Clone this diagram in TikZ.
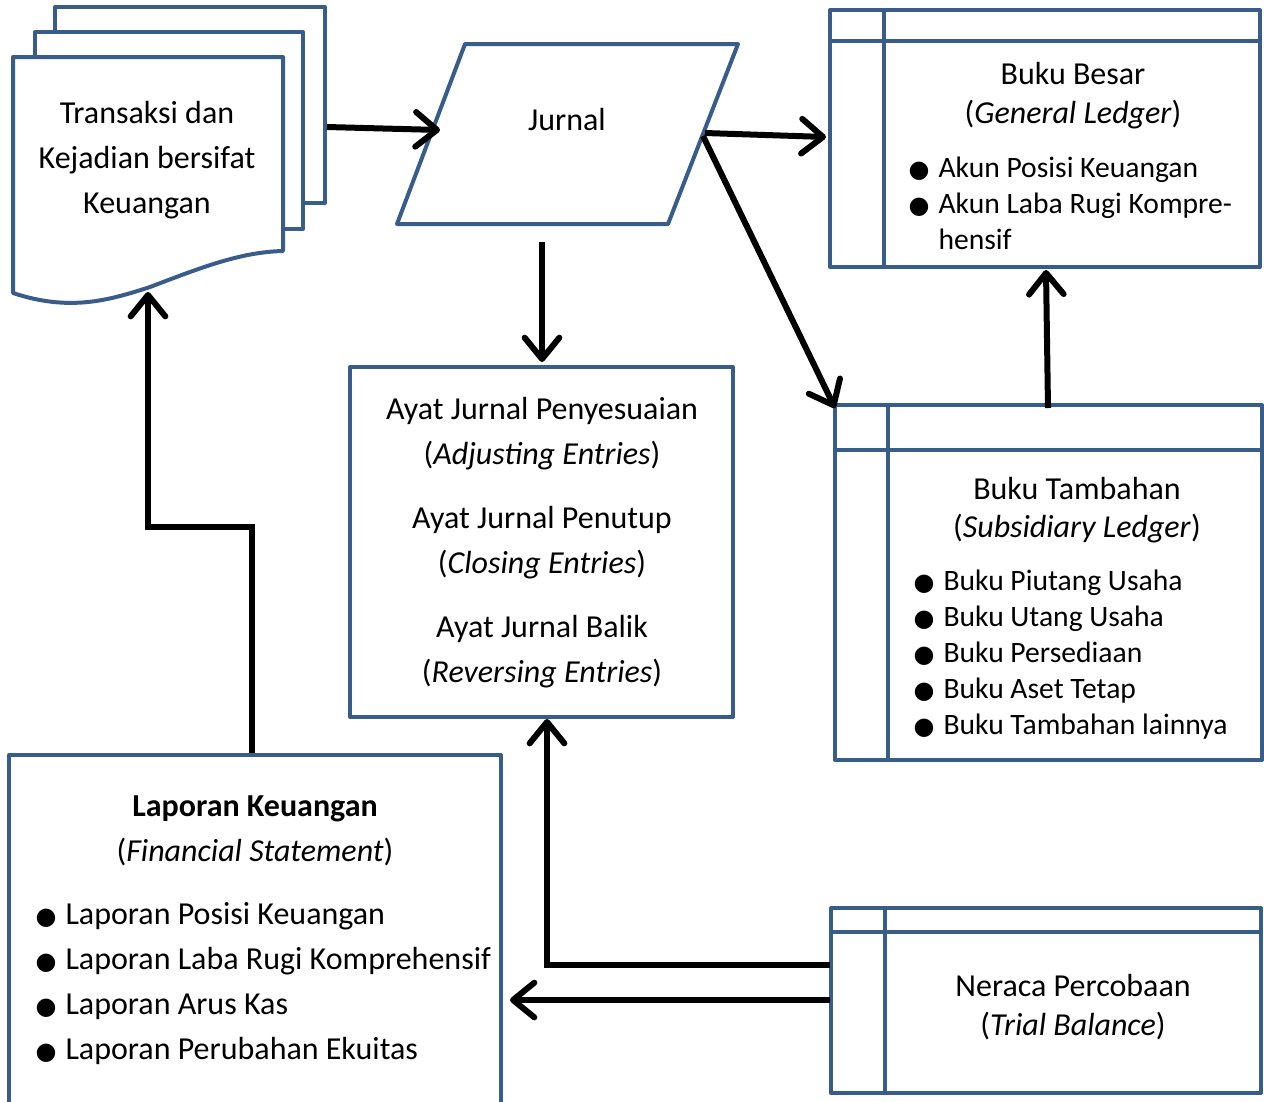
\documentclass[tikz,border=0pt]{standalone}
\usepackage{fontspec}
\setmainfont{Carlito}
\newfontfamily\symfont{DejaVu Sans}
\usetikzlibrary{arrows.meta}
\definecolor{outlineblue}{RGB}{56,93,138}
\newcommand{\bul}{\makebox[22.5pt][l]{\symfont\fontsize{18}{18}\selectfont ●}}
\newcommand{\bulskip}{\hspace*{22.5pt}}

\tikzset{every picture/.style={line width=0.75pt}}
\tikzset{
  shapeline/.style={draw=outlineblue,line width=3pt,line join=round,fill=white},
  rule/.style={draw=outlineblue,line width=3pt},
  flow/.style={line width=4.5pt,-{Straight Barb[length=16pt,width=26pt,round]}},
  txt/.style={inner sep=0.75pt,align=center,font=\fontsize{24}{33.75}\selectfont},
  listtxt/.style={inner sep=0.75pt,align=left,anchor=west,font=\fontsize{22.2}{27}\selectfont},
}

\begin{document}
\begin{tikzpicture}[x=0.75pt,y=0.75pt,yscale=-1,xscale=1]
\useasboundingbox (0,0) rectangle (1264,1101);

%Shape: Document stack
\draw[shapeline] (55,7) rectangle (325,203);
\draw[shapeline] (35,32) rectangle (303,229);
\draw[shapeline] (13,57) -- (283,57) -- (283,251) .. controls (240,252) and (200,268) .. (150,287) .. controls (110,300) and (70,312) .. (13,293) -- cycle;
%Shape: Parallelogram
\draw[shapeline] (465,44) -- (738,44) -- (668,224) -- (397,224) -- cycle;
%Shape: Ledger (general)
\draw[shapeline] (830,10) rectangle (1260,267);
\draw[rule] (830,41) -- (1260,41) (884,10) -- (884,267);
%Shape: Ledger (subsidiary)
\draw[shapeline] (835,405) rectangle (1262,760);
\draw[rule] (835,450) -- (1262,450) (888,405) -- (888,760);
%Shape: Ledger (trial balance)
\draw[shapeline] (831,908) rectangle (1261,1093);
\draw[rule] (831,932) -- (1261,932) (885,908) -- (885,1093);
%Shape: Rectangle
\draw[shapeline] (350,367) rectangle (733,717);
%Shape: Rectangle
\draw[shapeline] (9,755) rectangle (501,1112);

% Text Node
\node[txt] (docText) at (147,160) {Transaksi dan\\Kejadian bersifat\\Keuangan};
% Text Node
\node[txt] (jurnalText) at (567,120) {Jurnal};
% Text Node
\node[txt,font=\fontsize{24}{29.25}\selectfont] (besarTitle) at (1073,96) {Buku Besar\\(\textit{General Ledger})};
\node[listtxt] (besarList) at (907,203) {\bul Akun Posisi Keuangan\\\bul Akun Laba Rugi Kompre-\\\bulskip hensif};
% Text Node
\node[txt,font=\fontsize{24}{28.5}\selectfont] (tambahTitle) at (1077,510) {Buku Tambahan\\(\textit{Subsidiary Ledger})};
\node[listtxt] (tambahList) at (912,655) {\bul Buku Piutang Usaha\\\bul Buku Utang Usaha\\\bul Buku Persediaan\\\bul Buku Aset Tetap\\\bul Buku Tambahan lainnya};
% Text Node
\node[txt] (ayatText) at (542,543) {Ayat Jurnal Penyesuaian\\(\textit{Adjusting Entries})\\[14.25pt]Ayat Jurnal Penutup\\(\textit{Closing Entries})\\[14.25pt]Ayat Jurnal Balik\\(\textit{Reversing Entries})};
% Text Node
\node[txt] (lapTitle) at (255,831) {\textbf{Laporan Keuangan}\\(\textit{Financial Statement})};
\node[listtxt,font=\fontsize{24}{33.75}\selectfont] (lapList) at (34,984) {\bul Laporan Posisi Keuangan\\\bul Laporan Laba Rugi Komprehensif\\\bul Laporan Arus Kas\\\bul Laporan Perubahan Ekuitas};
% Text Node
\node[txt,font=\fontsize{24}{29.25}\selectfont] (neracaTitle) at (1073,1007) {Neraca Percobaan\\(\textit{Trial Balance})};

% Connector ends
\coordinate (docOut) at (327,127);
\coordinate (jurIn) at (440,130);
\coordinate (jurOutR) at (705,133);
\coordinate (besarIn) at (826,137);
\coordinate (jurOutD) at (703,136);
\coordinate (tambahIn) at (835,408);
\coordinate (jurBottom) at (542,242);
\coordinate (ayatIn) at (542,362);
\coordinate (tambahOut) at (1048,408);
\coordinate (besarBottom) at (1046,270);
\coordinate (neracaOutA) at (830,965);
\coordinate (ayatBottom) at (547,719);
\coordinate (neracaOutB) at (830,1000);
\coordinate (lapIn) at (510,1000);
\coordinate (lapTop) at (252,753);
\coordinate (docBottom) at (148,292);

%Arrows
\draw[flow] (docOut) -- (jurIn);
\draw[flow] (jurOutR) -- (besarIn);
\draw[flow] (jurOutD) -- (tambahIn);
\draw[flow] (jurBottom) -- (ayatIn);
\draw[flow] (tambahOut) -- (besarBottom);
\draw[flow] (neracaOutA) -| (ayatBottom);
\draw[flow] (neracaOutB) -- (lapIn);
\draw[flow] (lapTop) -- ++(0,-226) -| (docBottom);

\end{tikzpicture}
\end{document}
